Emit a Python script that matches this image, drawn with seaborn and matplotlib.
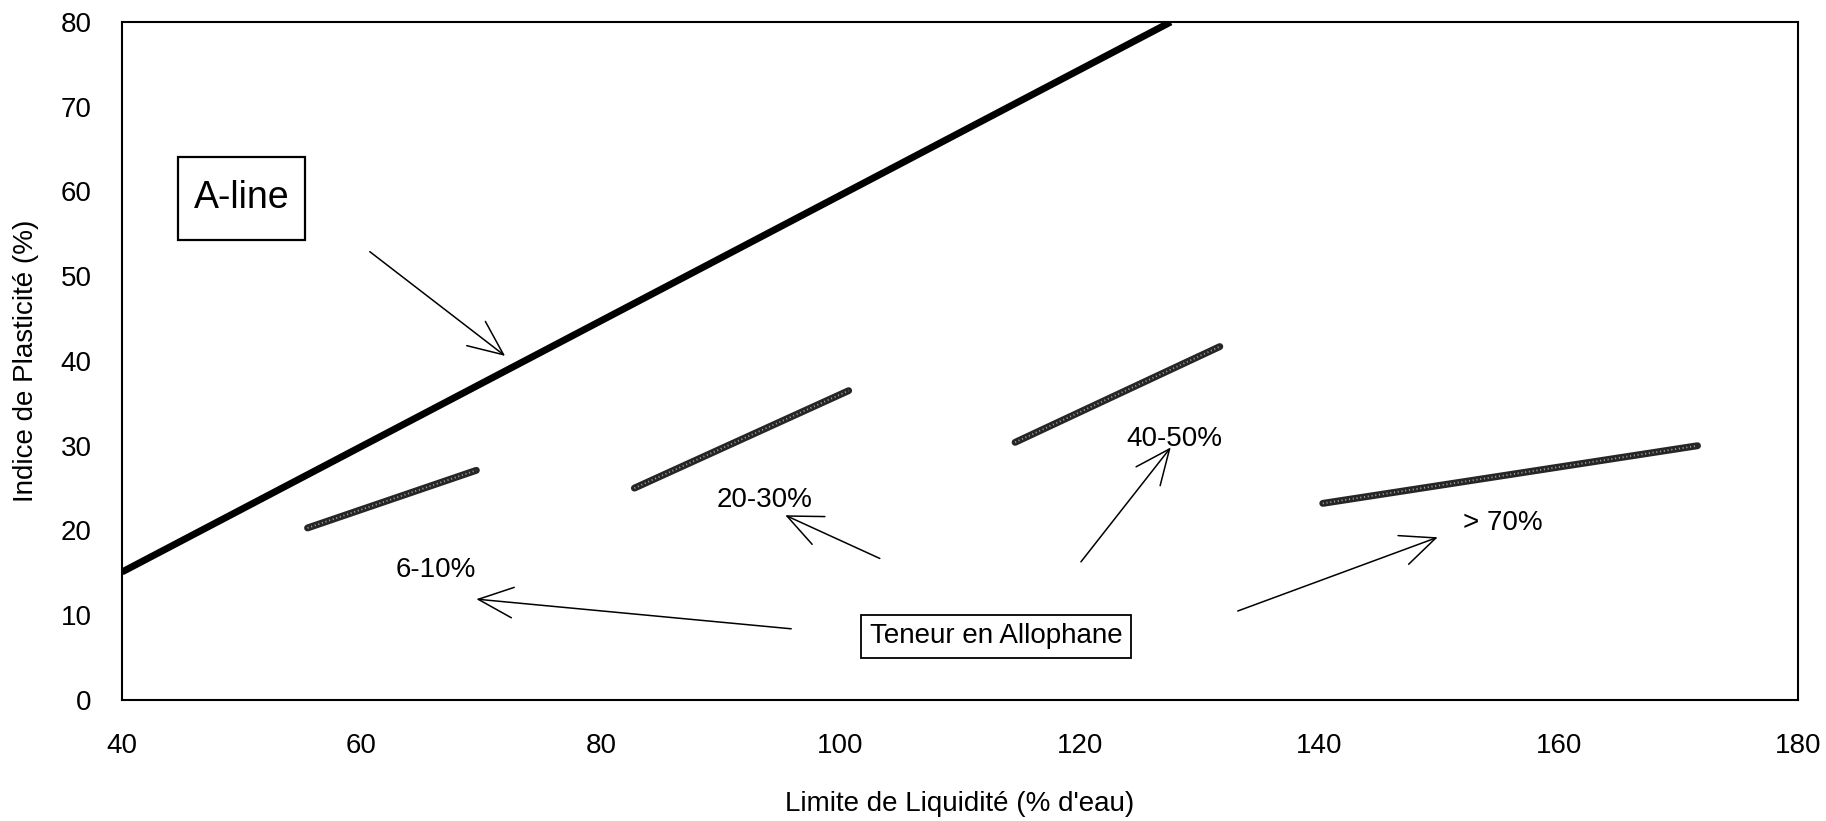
import matplotlib
matplotlib.use("Agg")
import matplotlib.pyplot as plt
from matplotlib.patches import Rectangle
import seaborn as sns
import pandas as pd

# A-line (Casagrande chart)
aline_ll = [40, 127.6]
aline_pi = [15.1, 80]

# Trends by allophane content: (LL start, LL end), (PI start, PI end)
groups = ["6-10%", "20-30%", "40-50%", "> 70%"]
seg_ll = [(55.5, 69.6), (82.8, 100.7), (114.6, 131.7), (140.3, 171.6)]
seg_pi = [(20.3, 27.1), (25.0, 36.5), (30.4, 41.7), (23.2, 30.0)]

# Label positions and arrow (tail -> head) for each group
label_xy = [(66.2, 15.3), (93.7, 23.6), (127.9, 30.8), (155.3, 20.9)]
arrow_tail = [(95.9, 8.4), (103.3, 16.7), (120.1, 16.3), (133.2, 10.5)]
arrow_head = [(69.6, 11.9), (95.4, 21.8), (127.6, 29.8), (149.9, 19.2)]

xticks = [40, 60, 80, 100, 120, 140, 160, 180]
yticks = [0, 10, 20, 30, 40, 50, 60, 70, 80]

sns.set_style("white")
plt.rcParams["font.family"] = ["Liberation Sans", "DejaVu Sans"]
plt.rcParams["text.color"] = "black"
plt.rcParams["axes.labelcolor"] = "black"
plt.rcParams["xtick.color"] = "black"
plt.rcParams["ytick.color"] = "black"

fig = plt.figure(figsize=(18.26, 8.21), dpi=100)
ax = fig.add_axes([0.0668, 0.1474, 0.9179, 0.8258])

df_a = pd.DataFrame({"ll": aline_ll, "pi": aline_pi})
sns.lineplot(data=df_a, x="ll", y="pi", ax=ax, color="black", lw=5,
             solid_capstyle="butt")

for g, xs, ys in zip(groups, seg_ll, seg_pi):
    df = pd.DataFrame({"ll": list(xs), "pi": list(ys)})
    sns.lineplot(data=df, x="ll", y="pi", ax=ax, color="#262626", lw=5,
                 solid_capstyle="round")
    ax.plot(list(xs), list(ys), color="#a0a0a0", lw=1.3,
            dashes=(0.6, 1.5), solid_capstyle="round")

arrow_style = "->,head_length=1.25,head_width=0.55"

# Group labels and pointer arrows
for g, (lx, ly), tail, head in zip(groups, label_xy, arrow_tail, arrow_head):
    ax.text(lx, ly, g, fontsize=20, ha="center", va="center", color="black")
    ax.annotate("", xy=head, xytext=tail,
                arrowprops=dict(arrowstyle=arrow_style, lw=1.1,
                                color="black", mutation_scale=20,
                                shrinkA=0, shrinkB=0))

# A-line callout
ax.add_patch(Rectangle((44.7, 54.3), 10.6, 9.8, fc="white", ec="black",
                       lw=1.6, zorder=3))
ax.text(50.0, 59.2, "A-line", fontsize=27, ha="center", va="center",
        color="black", zorder=4)
ax.annotate("", xy=(72.0, 40.6), xytext=(60.7, 52.9),
            arrowprops=dict(arrowstyle=arrow_style, lw=1.1, color="black",
                            mutation_scale=20, shrinkA=0, shrinkB=0))

ax.text(113.0, 7.5, "Teneur en Allophane", fontsize=20, ha="center",
        va="center", color="black",
        bbox=dict(boxstyle="square,pad=0.3", fc="white", ec="black", lw=1.3))

ax.set_xlim(40, 180)
ax.set_ylim(0, 80)
ax.set_xticks(xticks)
ax.set_yticks(yticks)
ax.set_xticklabels([str(v) for v in xticks])
ax.set_yticklabels([str(v) for v in yticks])

for s in ax.spines.values():
    s.set_visible(True)
    s.set_color("black")
    s.set_linewidth(1.5)

ax.tick_params(axis="x", direction="inout", length=14, width=1.2,
               labelsize=20, pad=17, colors="black")
ax.tick_params(axis="y", direction="out", length=8, width=1.0,
               labelsize=20, pad=14, colors="black")

ax.set_xlabel("Limite de Liquidité (% d'eau)", fontsize=20, va="center")
ax.set_ylabel("Indice de Plasticité (%)", fontsize=20, va="center")
ax.xaxis.set_label_coords(0.5, -0.154)
ax.yaxis.set_label_coords(-0.057, 0.5)

fig.savefig("out.png", dpi=100, facecolor="white")
